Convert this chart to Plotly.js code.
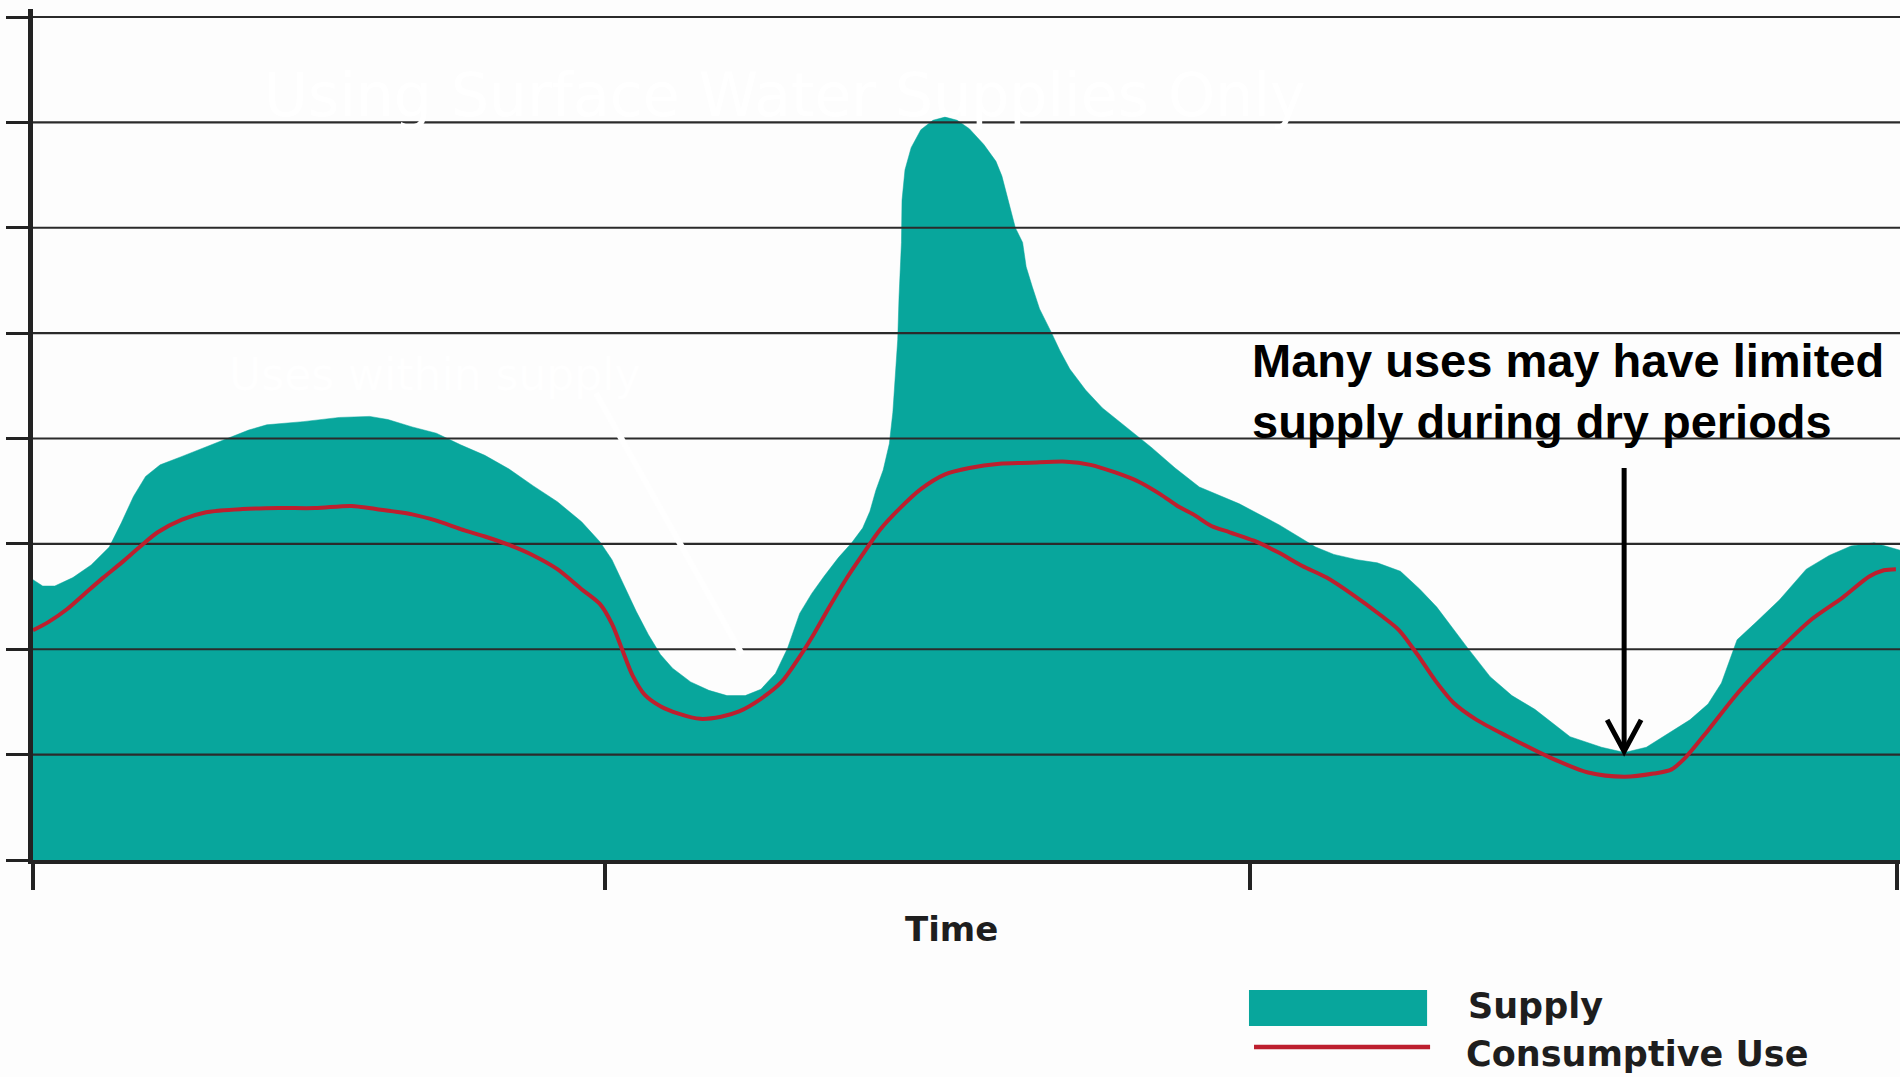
<!DOCTYPE html>
<html>
<head>
<meta charset="utf-8">
<script src="https://cdn.plot.ly/plotly-3.0.1.min.js"></script>
<style>
  html, body { margin: 0; padding: 0; background: #fdfdfd; }
  #chart { width: 1900px; height: 1077px; }
</style>
</head>
<body>
<div id="chart"></div>
<script>
// ---- Data ----
const supplyX = [0, 0.52, 1.17, 2.14, 3.12, 4.09, 4.74, 5.39, 6.04, 6.82, 7.99, 9.29, 10.59, 11.57, 12.54, 14.49, 16.44, 18.06, 19.04, 20.34, 21.64, 22.94, 24.24, 25.54, 26.84, 28.13, 29.43, 30.41, 31.06, 31.71, 32.36, 33.01, 33.66, 34.31, 35.28, 36.26, 37.23, 38.21, 39.05, 39.83, 40.48, 41.13, 41.78, 42.43, 43.21, 43.92, 44.51, 44.90, 45.22, 45.61, 45.94, 46.13, 46.26, 46.39, 46.46, 46.59, 46.62, 46.78, 47.11, 47.63, 48.28, 48.93, 49.58, 50.23, 51.01, 51.66, 51.98, 52.31, 52.70, 53.09, 53.28, 53.61, 54.00, 54.65, 55.10, 55.62, 56.47, 57.37, 58.68, 59.97, 61.27, 62.57, 64.72, 66.86, 68.81, 69.79, 71.02, 72.12, 73.36, 74.40, 75.31, 76.22, 76.93, 78.17, 79.34, 80.57, 82.46, 84.15, 85.38, 86.55, 87.78, 88.89, 89.86, 90.58, 91.03, 91.42, 92.46, 93.70, 95.13, 96.36, 97.53, 98.77, 100.16];
const supplyY = [2.66, 2.60, 2.60, 2.68, 2.80, 2.97, 3.20, 3.45, 3.64, 3.75, 3.83, 3.92, 4.01, 4.08, 4.13, 4.16, 4.20, 4.21, 4.18, 4.11, 4.05, 3.94, 3.84, 3.71, 3.55, 3.40, 3.21, 3.02, 2.85, 2.61, 2.36, 2.14, 1.95, 1.82, 1.69, 1.61, 1.56, 1.56, 1.62, 1.77, 2.01, 2.34, 2.53, 2.69, 2.87, 3.01, 3.15, 3.31, 3.51, 3.70, 3.95, 4.25, 4.60, 4.94, 5.34, 5.86, 6.26, 6.55, 6.76, 6.93, 7.02, 7.05, 7.02, 6.94, 6.79, 6.63, 6.49, 6.26, 6.00, 5.86, 5.63, 5.44, 5.23, 5.00, 4.83, 4.66, 4.46, 4.29, 4.10, 3.92, 3.72, 3.54, 3.38, 3.18, 2.97, 2.90, 2.85, 2.82, 2.74, 2.57, 2.40, 2.18, 2.02, 1.74, 1.56, 1.43, 1.17, 1.07, 1.02, 1.07, 1.21, 1.33, 1.48, 1.68, 1.90, 2.09, 2.26, 2.47, 2.76, 2.89, 2.98, 3.01, 2.94];

const useX = [0, 0.84, 1.82, 2.79, 3.77, 4.74, 5.72, 6.69, 7.99, 9.29, 11.24, 13.19, 15.14, 17.09, 18.39, 20.34, 21.64, 22.94, 24.24, 25.54, 26.84, 28.13, 29.43, 30.41, 31.06, 31.58, 32.17, 32.81, 33.66, 34.63, 35.80, 36.91, 37.88, 39.05, 40.16, 41.13, 41.91, 42.75, 43.60, 44.51, 45.42, 46.46, 47.63, 48.93, 50.23, 51.85, 53.48, 55.43, 56.73, 58.02, 59.32, 60.49, 61.40, 62.25, 63.22, 64.20, 65.50, 66.80, 68.10, 69.40, 70.70, 72.32, 73.29, 74.27, 75.24, 76.22, 77.45, 79.14, 81.29, 83.43, 85.38, 86.94, 87.91, 88.69, 89.86, 91.29, 92.46, 93.70, 95.39, 97.08, 98.51, 99.29, 99.94];
const useY = [2.18, 2.26, 2.38, 2.53, 2.68, 2.82, 2.97, 3.11, 3.23, 3.30, 3.33, 3.34, 3.34, 3.36, 3.33, 3.28, 3.22, 3.14, 3.07, 2.99, 2.89, 2.76, 2.57, 2.43, 2.24, 2.01, 1.75, 1.57, 1.46, 1.39, 1.34, 1.36, 1.41, 1.53, 1.69, 1.93, 2.15, 2.41, 2.66, 2.90, 3.13, 3.33, 3.52, 3.66, 3.72, 3.76, 3.77, 3.78, 3.75, 3.68, 3.59, 3.47, 3.36, 3.28, 3.17, 3.11, 3.03, 2.92, 2.79, 2.68, 2.53, 2.32, 2.18, 1.95, 1.70, 1.49, 1.33, 1.17, 0.98, 0.83, 0.79, 0.82, 0.86, 0.98, 1.23, 1.55, 1.78, 2.00, 2.28, 2.49, 2.69, 2.75, 2.76];

const seriesNames = ["Supply", "Consumptive Use"];
const xTickVals = [0, 30.67, 65.30, 100];
const yTickVals = [0, 1, 2, 3, 4, 5, 6, 7, 8];
const xAxisTitle = "Time";
const calloutText = "Many uses may have limited<br>supply during dry periods";
const hiddenTitle = "Using Surface Water Supplies Only";
const hiddenLabel = "Uses within supply";

// ---- Styling ----
const TEAL = "#08A69C";
const RED = "#BD1F2E";
const INK = "#222222";
const BG = "#fdfdfd";
const xRange = [0, 100.16];
const yRange = [0, 8.076];

// Horizontal rules drawn between the supply fill and the use line
const gx = [], gy = [];
yTickVals.filter(v => v > 0).forEach(v => { gx.push(xRange[0], xRange[1], null); gy.push(v, v, null); });

const traces = [
  { type: "scatter", mode: "lines", name: seriesNames[0], x: supplyX, y: supplyY,
    fill: "tozeroy", fillcolor: TEAL, line: { color: TEAL, width: 0.5 }, hoverinfo: "skip" },
  { type: "scatter", mode: "lines", name: "grid", x: gx, y: gy, showlegend: false,
    line: { color: "#2b2b2b", width: 2.2 }, hoverinfo: "skip" },
  { type: "scatter", mode: "lines", name: seriesNames[1], x: useX, y: useY,
    line: { color: RED, width: 4, shape: "spline", smoothing: 0.8 }, hoverinfo: "skip" }
];

const boldWide = { family: "DejaVu Sans, Verdana, sans-serif", size: 34, color: "#1e1e1e", weight: 700 };
const boldLegend = { family: "DejaVu Sans, Verdana, sans-serif", size: 35, color: "#1e1e1e", weight: 700 };

const layout = {
  width: 1900, height: 1077,
  margin: { l: 33, r: 0, t: 9, b: 217, pad: 0 },
  paper_bgcolor: BG, plot_bgcolor: BG,
  showlegend: false,
  hovermode: false,
  xaxis: {
    range: xRange, tickvals: xTickVals, ticks: "outside", ticklen: 26, tickwidth: 4, tickcolor: INK,
    showticklabels: false, showline: true, linewidth: 4, linecolor: INK,
    showgrid: false, zeroline: false, layer: "above traces", fixedrange: true
  },
  yaxis: {
    range: yRange, tickvals: yTickVals, ticks: "outside", ticklen: 22, tickwidth: 3, tickcolor: INK,
    showticklabels: false, showline: true, linewidth: 5, linecolor: INK,
    showgrid: false, zeroline: false, layer: "above traces", fixedrange: true
  },
  shapes: [
    // callout arrow (shaft + open chevron head)
    { type: "path", xref: "x", yref: "y", path: "M85.36,3.72 L85.36,1.06", line: { color: "#000", width: 5 } },
    { type: "path", xref: "x", yref: "y", path: "M84.45,1.33 L85.36,1.03 L86.27,1.33", line: { color: "#000", width: 5 } },
    // faint white pointer from the hidden label
    { type: "line", xref: "x", yref: "y", x0: 30.2, y0: 4.43, x1: 38.04, y1: 1.95, line: { color: "#ffffff", width: 6 } },
    // legend swatches
    { type: "rect", xref: "paper", yref: "paper", x0: 0.6513, x1: 0.7467, y0: -0.195, y1: -0.1528,
      fillcolor: TEAL, line: { width: 0 } },
    { type: "line", xref: "paper", yref: "paper", x0: 0.654, x1: 0.7483, y0: -0.2197, y1: -0.2197,
      line: { color: RED, width: 4.5 } }
  ],
  annotations: [
    { xref: "x", yref: "y", x: 65.3, y: 4.45, xanchor: "left", yanchor: "middle", align: "left",
      text: calloutText, showarrow: false,
      font: { family: "Liberation Sans, Arial, sans-serif", size: 47, color: "#000000", weight: 700 } },
    { xref: "paper", yref: "paper", x: 0.4922, y: -0.081, xanchor: "center", yanchor: "middle",
      text: xAxisTitle, showarrow: false, font: boldWide },
    { xref: "paper", yref: "paper", x: 0.7675, y: -0.1716, xanchor: "left", yanchor: "middle",
      text: seriesNames[0], showarrow: false, font: boldLegend },
    { xref: "paper", yref: "paper", x: 0.7665, y: -0.228, xanchor: "left", yanchor: "middle",
      text: seriesNames[1], showarrow: false, font: boldLegend },
    { xref: "x", yref: "y", x: 40.3, y: 7.26, xanchor: "center", yanchor: "middle",
      text: hiddenTitle, showarrow: false,
      font: { family: "DejaVu Sans, sans-serif", size: 60, color: "#ffffff" } },
    { xref: "x", yref: "y", x: 21.57, y: 4.61, xanchor: "center", yanchor: "middle",
      text: hiddenLabel, showarrow: false,
      font: { family: "DejaVu Sans, sans-serif", size: 44, color: "#ffffff" } }
  ]
};

Plotly.newPlot("chart", traces, layout, { staticPlot: true, displayModeBar: false });
</script>
</body>
</html>
